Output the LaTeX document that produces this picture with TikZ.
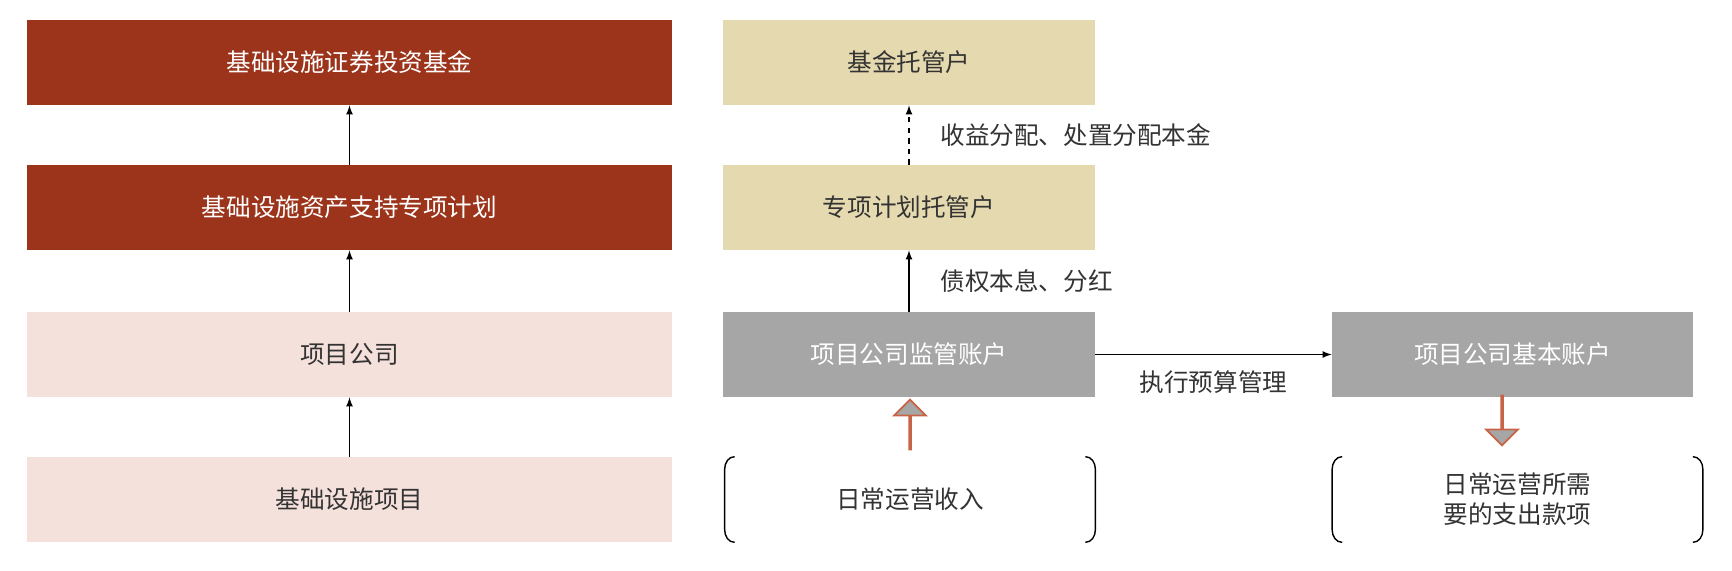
\documentclass[tikz,border=0pt]{standalone}
\usepackage{fontspec}
\setmainfont{Noto Sans CJK SC}
\usetikzlibrary{positioning,shapes.arrows}
\definecolor{darkred}{RGB}{155,52,27}
\definecolor{lightpink}{RGB}{245,225,220}
\definecolor{beige}{RGB}{229,217,175}
\definecolor{boxgray}{RGB}{166,166,166}
\definecolor{arrowred}{RGB}{200,100,70}
\tikzset{
  box/.style={minimum width=12.9cm, minimum height=1.7cm, inner sep=0pt, font=\fontsize{14}{17}\selectfont},
  redbox/.style={box, fill=darkred, text=white},
  pinkbox/.style={box, fill=lightpink, text=black!80},
  midbox/.style={box, minimum width=7.44cm, fill=beige, text=black!80},
  graybox/.style={box, minimum width=7.44cm, fill=boxgray, text=white},
  lbl/.style={font=\fontsize{14}{17}\selectfont, text=black!80},
  fat/.style={single arrow, draw=arrowred, fill=boxgray, line width=1pt,
    minimum height=1cm, single arrow head extend=0.3cm, minimum width=0.55cm, inner sep=0pt}
}
\begin{document}
\begin{tikzpicture}[>=latex]
\useasboundingbox (0,0) rectangle (34.64,-11.4);

% left column
\node[redbox] (fund) at (6.99,-1.25) {基础设施证券投资基金};
\node[redbox] (plan) at (6.99,-4.15) {基础设施资产支持专项计划};
\node[pinkbox] (company) at (6.99,-7.09) {项目公司};
\node[pinkbox] (project) at (6.99,-9.99) {基础设施项目};
\draw[->,thick] (project) -- (company);
\draw[->,thick] (company) -- (plan);
\draw[->,thick] (plan) -- (fund);

% accounts
\node[midbox] (custody) at (18.18,-1.25) {基金托管户};
\node[midbox] (plancustody) at (18.18,-4.15) {专项计划托管户};
\node[graybox] (supervise) at (18.18,-7.09) {项目公司监管账户};
\node[graybox, minimum width=7.22cm] (basic) at (30.25,-7.09) {项目公司基本账户};
\draw[->,thick] (supervise) -- (plancustody)
  node[lbl, midway, right=0.5cm] {债权本息、分红};
\draw[->,thick,dashed] (plancustody) -- (custody)
  node[lbl, midway, right=0.5cm] {收益分配、处置分配本金};
\draw[->,thick] (supervise) -- (basic)
  node[lbl, midway, below=0.2cm] {执行预算管理};

% income and expense
\node[lbl, minimum width=7.4cm, minimum height=1.7cm] (income) at (18.2,-9.99) {日常运营收入};
\node[lbl, minimum width=7.4cm, minimum height=1.7cm, align=center] (expense) at (30.35,-9.99) {日常运营所需\\要的支出款项};
\foreach \n in {income, expense} {
  \draw[thick] ([xshift=0.2cm]\n.north west) to[out=180,in=90] ([yshift=-0.25cm]\n.north west)
    -- ([yshift=0.25cm]\n.south west) to[out=-90,in=180] ([xshift=0.2cm]\n.south west);
  \draw[thick] ([xshift=-0.2cm]\n.north east) to[out=0,in=90] ([yshift=-0.25cm]\n.north east)
    -- ([yshift=0.25cm]\n.south east) to[out=-90,in=0] ([xshift=-0.2cm]\n.south east);
}
\node[fat, rotate=90] (inarrow) at (18.2,-8.5) {};
\node[fat, rotate=-90] (outarrow) at (30.04,-8.4) {};
\end{tikzpicture}
\end{document}
